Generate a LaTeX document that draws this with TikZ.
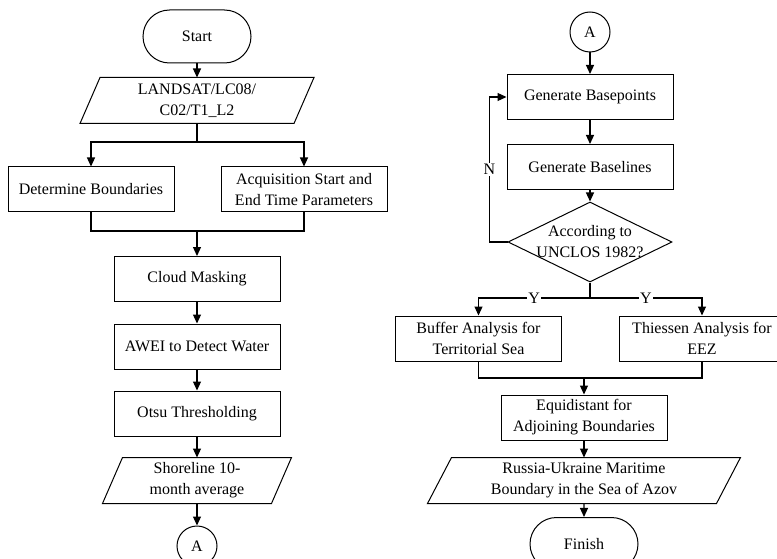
\documentclass[tikz,border=0pt]{standalone}
\usepackage{fontspec}
\setmainfont{Liberation Serif}
\usetikzlibrary{shapes.geometric, shapes.misc, arrows.meta}

\newcommand{\flowfont}{\fontsize{16}{21}\selectfont}
\tikzset{
  base/.style={draw, line width=1pt, align=center, font=\flowfont, inner sep=2pt},
  process/.style={base, rectangle, minimum width=166pt, minimum height=45pt},
  terminal/.style={base, rounded rectangle, minimum width=112pt, minimum height=53pt},
  iobox/.style={base, draw=none, rectangle, minimum height=45pt},
  decision/.style={draw, line width=1pt, diamond, aspect=2, minimum width=164pt, minimum height=80pt, inner sep=0pt},
  connector/.style={base, circle, minimum size=40pt, inner sep=0pt},
  flow/.style={line width=1.2pt, -{Triangle[length=9pt,width=8pt]}},
  link/.style={line width=1.2pt},
  yn/.style={fill=white, inner sep=1pt, font=\flowfont}
}
% outline of an input/output node: name, half slant
\newcommand{\slanted}[2]{%
  \draw[line width=1pt] ([xshift=#2]#1.north west) -- ([xshift=#2]#1.north east)
    -- ([xshift=-#2]#1.south east) -- ([xshift=-#2]#1.south west) -- cycle;}

\begin{document}
\begin{tikzpicture}[x=1pt, y=-1pt]
\useasboundingbox (0,0) rectangle (777,559);
\clip (0,0) rectangle (777,559);

%left column
\node[terminal] (start) at (197,36.5) {Start};
\node[iobox, minimum width=213pt] (landsat) at (197,100.5) {LANDSAT/LC08/\\C02/T1\_L2};
\slanted{landsat}{10pt}
\node[process] (bounds) at (91,189.5) {Determine Boundaries};
\node[process] (acqtime) at (304,189.5) {Acquisition Start and\\End Time Parameters};
\node[process] (cloud) at (197,279) {Cloud Masking};
\node[process] (awei) at (197,346.5) {AWEI to Detect Water};
\node[process] (otsu) at (197,413.5) {Otsu Thresholding};
\node[iobox, minimum width=168pt] (shore) at (197,480.5) {Shoreline 10-\\month average};
\slanted{shore}{10pt}
\node[connector] (pageA) at (197,546) {A};

%right column
\node[connector] (pageB) at (590,32) {A};
\node[process] (basepts) at (590,97) {Generate Basepoints};
\node[process] (baselines) at (590,167) {Generate Baselines};
\node[decision, label={[font=\flowfont, align=center]center:{According to\\UNCLOS 1982?}}] (unclos) at (590,242) {};
\node[process] (buffer) at (478.5,338.5) {Buffer Analysis for\\Territorial Sea};
\node[process] (thiessen) at (702,338.5) {Thiessen Analysis for\\EEZ};
\node[process] (equi) at (584,417.5) {Equidistant for\\Adjoining Boundaries};
\node[iobox, minimum width=288pt] (azov) at (584,480.5) {Russia-Ukraine Maritime\\Boundary in the Sea of Azov};
\slanted{azov}{12pt}
\node[terminal] (finish) at (584,544) {Finish};

%left connectors
\draw[flow] (start) -- (landsat);
\coordinate (fork) at (197,142);
\draw[link] (landsat) -- (fork);
\draw[flow] (fork) -| (bounds);
\draw[flow] (fork) -| (acqtime);
\coordinate (join) at (197,231);
\draw[link] (bounds) |- (join) -| (acqtime);
\draw[flow] (join) -- (cloud);
\draw[flow] (cloud) -- (awei);
\draw[flow] (awei) -- (otsu);
\draw[flow] (otsu) -- (shore);
\draw[flow] (shore) -- (pageA);

%right connectors
\draw[flow] (pageB) -- (basepts);
\draw[flow] (basepts) -- (baselines);
\draw[flow] (baselines) -- (unclos);
\draw[flow] (unclos.west) -- ++(-18,0) |- node[yn, pos=0.25] {N} (basepts.west);
\coordinate (branch) at (590,298);
\draw[link] (unclos) -- (branch);
\draw[flow] (branch) -| node[yn, pos=0.25] {Y} (buffer);
\draw[flow] (branch) -| node[yn, pos=0.25] {Y} (thiessen);
\coordinate (meet) at (584,378);
\draw[link] (buffer) |- (meet) -| (thiessen);
\draw[flow] (meet) -- (equi);
\draw[flow] (equi) -- (azov);
\draw[flow] (azov) -- (finish);
\end{tikzpicture}
\end{document}
